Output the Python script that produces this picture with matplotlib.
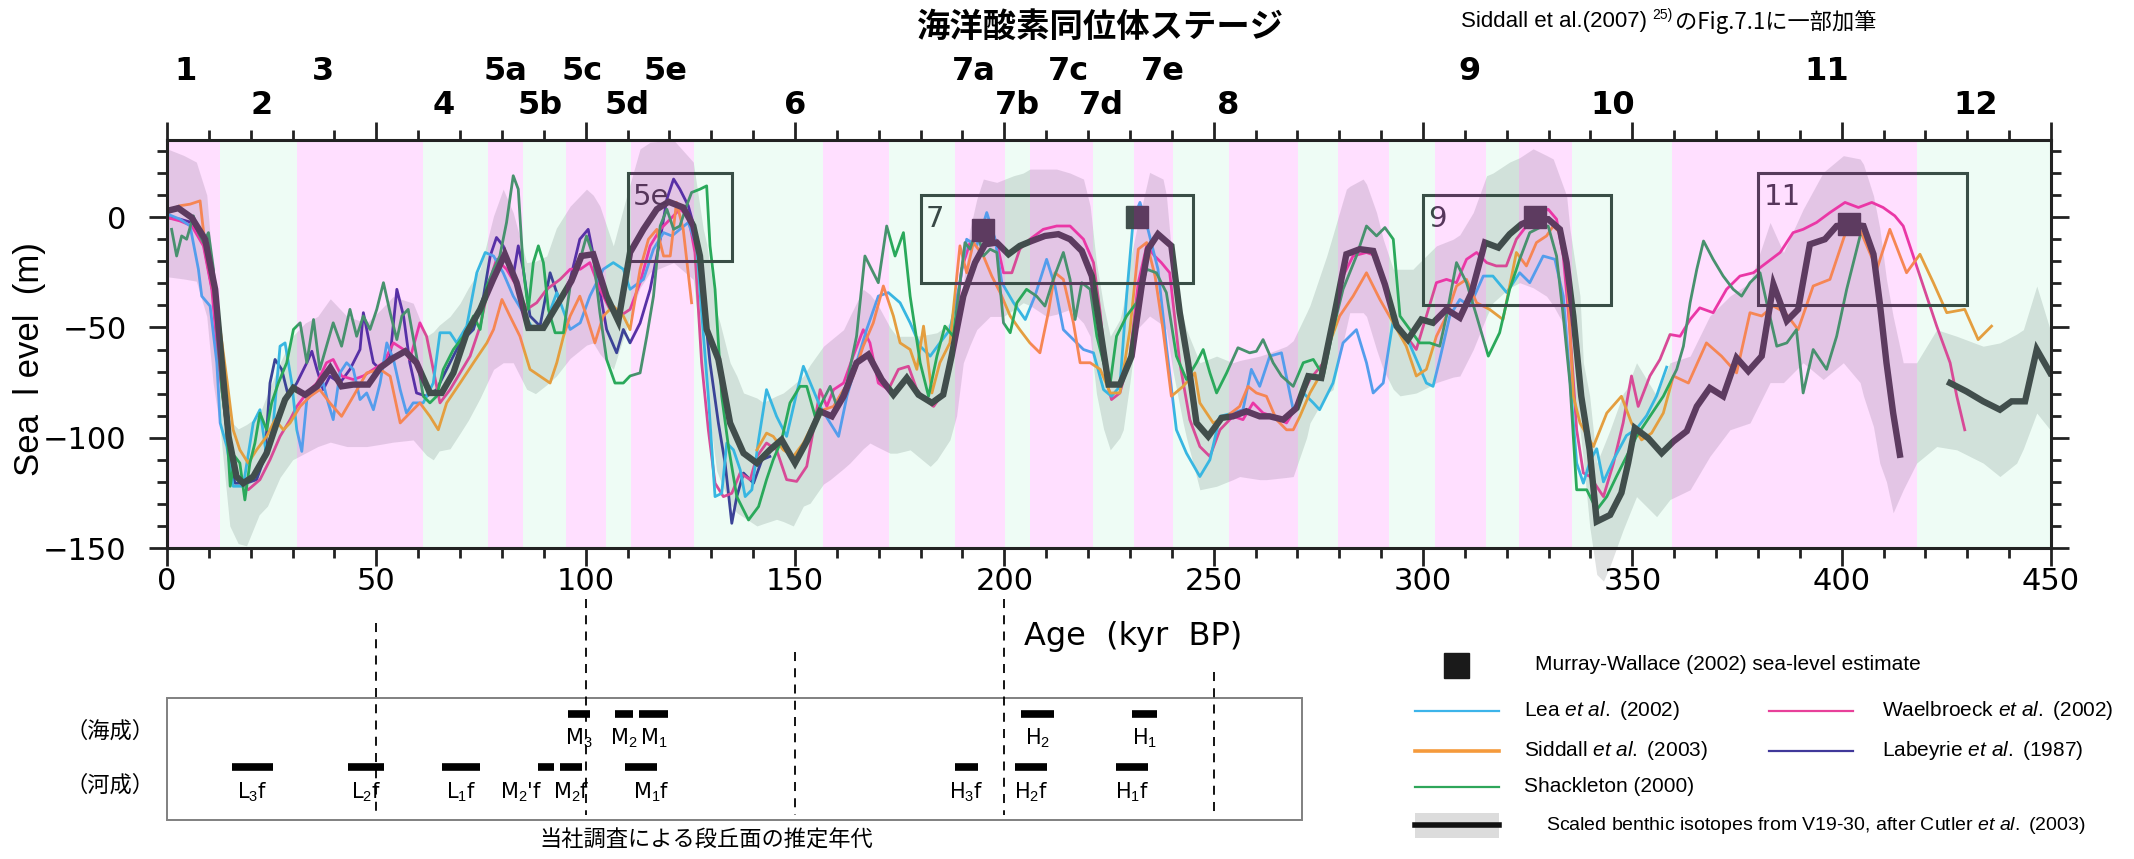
import numpy as np
import matplotlib
matplotlib.use('Agg')
import matplotlib.pyplot as plt
from matplotlib import font_manager
from matplotlib.patches import Rectangle

installed = {f.name for f in font_manager.fontManager.ttflist}
NARROW = 'Liberation Sans Narrow' if 'Liberation Sans Narrow' in installed else 'DejaVu Sans'
JP = ['Noto Sans CJK JP', 'DejaVu Sans']

plt.rcParams['font.family'] = ['Liberation Sans', 'DejaVu Sans']
plt.rcParams['mathtext.fontset'] = 'custom'
plt.rcParams['mathtext.rm'] = 'Liberation Sans'
plt.rcParams['mathtext.it'] = 'Liberation Sans:italic'

# ---- data (age in kyr BP, sea level in m) ----
stage_row1 = ['1', '3', '5a', '5c', '5e', '7a', '7c', '7e', '9', '11']
stage_row1_age = [4.5, 37.2, 80.8, 99.2, 119, 192.6, 215.4, 237.8, 311.2, 396.5]
stage_row2 = ['2', '4', '5b', '5d', '6', '7b', '7d', '8', '10', '12']
stage_row2_age = [22.5, 66, 89.2, 109.8, 150, 203.1, 223.1, 253.4, 345.4, 432]

# interglacial (pink) / glacial (green) bands
pink_bands = [(0, 12.7), (31, 61.1), (76.6, 85.1), (95.3, 104.9), (110.8, 125.9),
              (156.8, 172.5), (188.2, 200.2), (206.1, 221.1), (230.9, 240.3),
              (253.7, 270.2), (279.7, 291.9), (302.8, 315), (323, 335.5), (359.4, 418.1)]
green_bands = [(12.7, 31), (61.1, 76.6), (85.1, 95.3), (104.9, 110.8), (125.9, 156.8),
               (172.5, 188.2), (200.2, 206.1), (221.1, 230.9), (240.3, 253.7),
               (270.2, 279.7), (291.9, 302.8), (315, 323), (335.5, 359.4), (418.1, 450)]

# highstand boxes: name, age from, age to, level from, level to
boxes = [('5e', 110, 135, -20, 20), ('7', 180, 245, -30, 10),
         ('9', 300, 345, -40, 10), ('11', 380, 430, -40, 20)]

mw_age = [195, 231.6, 326.8, 401.8]
mw_level = [-6, 0, 0, -3]

env_age = [0, 4, 7, 9.5, 11, 12.7, 15, 17, 19, 22, 24, 27, 30, 33, 36, 39, 43, 47.7, 51, 54,
           58.8, 62, 63.6, 65, 67.6, 70, 72, 74.8, 78, 80.3, 82.7, 85.9, 88, 90.7, 93, 96.3,
           100.2, 101.8, 103.4, 106.6, 109.8, 110.6, 113, 115.4, 121, 125.7, 128.1, 128.9,
           131.3, 132.1, 134.5, 136.1, 137.7, 140.9, 142.4, 145.6, 147.2, 149.6, 152, 153.6,
           156.8, 158.4, 161.6, 163.1, 166.3, 167.9, 169.5, 172.7, 174.3, 177.5, 179.1, 182.3,
           183.9, 187, 188.6, 190.2, 191.8, 193.4, 195, 196.6, 198.2, 199.8, 202.2, 204.5,
           206.1, 210.1, 212.5, 215.7, 218.9, 220.5, 222, 223.7, 225.3, 227.6, 228.4, 230,
           231.6, 234.7, 237.9, 238.7, 240.3, 242.7, 243.5, 246.7, 250.7, 254.6, 256.2, 261,
           262.6, 267.4, 269, 272.2, 273, 277, 278.5, 281.7, 282.5, 285.7, 286.5, 288.9, 290.5,
           292.9, 294.5, 297.6, 298.4, 302.4, 303.2, 307.2, 308.8, 312, 315.2, 316.7, 320.7,
           323.1, 326.3, 329.5, 331.1, 334.3, 335.1, 337.5, 338.3, 339.8, 341.5, 343.1, 344.7,
           347.8, 348.6, 351, 355.8, 359, 363.8, 368.5, 373.3, 378.1, 382.9, 386.1, 390.8,
           395.6, 400.4, 404.4, 405.2, 407.6, 409.1, 410.7, 412.3, 414.7, 417.9, 422.7, 427.5,
           433.8, 437.8, 441.8, 443.4, 446.6, 449.8]
env_upper = [31, 28, 25, 10, -25, -60, -92, -96, -94, -90, -80, -66, -54, -48, -45, -37, -45,
             -48, -42, -36, -39, -54, -52, -49, -45, -39, -32, -23.6, 0.6, 12.7, 2, -20.6, -20,
             -17.6, -5, 5, 12.7, 10, 5, -13, 9.7, 15, 31, 34, 35, 25, -5.5, -12, -43, -48, -66,
             -72, -79.7, -82, -84, -81, -79.7, -76, -72, -67, -58.5, -56, -51, -45, -32.7, -35,
             -38.8, -50, -54, -54, -54, -53, -52.4, -48, -44.8, -30, -5.5, 8, 17.3, 16.5, 15.8,
             17, 18.8, 20, 21.8, 21.8, 21.8, 20, 17.3, 5, -20.6, -40, -54, -46.4, -40, -20,
             -5.5, 20.3, 17.3, 10, -23.6, -45, -51, -66, -63, -66, -65, -63, -62, -58.5, -56,
             -43.3, -40, -17.6, -8, 12.7, 14, 17.3, 15, 2.1, -10, -23.6, -23.6, -23.6, -22,
             -14.5, -13, -10, -8, 2.1, 18.8, 20, 25, 27, 31, 28, 26.4, 9.7, -5.5, -35.8, -66,
             -81, -111.5, -104, -96.4, -80, -78, -66, -81, -66, -63, -44.8, -35.8, -29.7, -2.4,
             -16, 3.6, 20.3, 27.9, 26.4, 24, 9.7, -5, -28.2, -45, -66, -66, -51, -54, -58.5,
             -57, -53, -51, -31.2, -51]
env_lower = [-27, -28, -29, -45, -75, -96, -140, -148, -149, -135, -131, -118, -110, -107,
             -104, -102, -104, -104, -103, -102, -101, -108, -110, -106, -105, -98, -92, -82,
             -69, -66, -66, -78, -80, -76, -72, -64, -58, -57, -62, -69, -50, -45, -32, -25,
             -20.6, -28.2, -70, -81, -115, -119, -130, -134, -136, -140, -139, -137, -138, -140,
             -131, -129.7, -121, -119, -114, -111.5, -105, -102.4, -104, -107, -107, -105.5,
             -108, -113, -110, -101, -90, -66, -58, -51, -48, -45, -45, -45, -42, -38.8, -40,
             -45, -44, -41.8, -48, -54, -80, -96, -105.5, -100, -96.4, -75, -51, -44.8, -49,
             -51, -70, -93.3, -100, -123.6, -122, -119, -117.6, -119, -119, -118, -117.6, -100,
             -93.3, -80, -78.2, -50, -43.3, -43.3, -45, -60, -69, -78, -81, -80, -79.7, -76,
             -75, -72.5, -72, -60, -45, -38.8, -32, -29.7, -32, -35.8, -40, -51, -70, -96.4,
             -110, -140, -162, -165, -158, -141.8, -138, -126.7, -135.8, -128, -123.6, -108.5,
             -96.4, -93.3, -75, -75, -66, -73.6, -66, -75, -81, -95, -111.5, -120, -134,
             -123.6, -111.5, -104, -105.5, -111.5, -117.6, -111.5, -105, -88.8, -96.4]

# scaled benthic isotopes, V19-30 (Cutler et al. 2003); nan = gap
cutler_age = [0.1, 2.7, 5.9, 9.1, 11.5, 13.1, 14.7, 16.6, 18.2, 20.6, 23.8, 26.2, 28.2, 30.2,
              33, 35.8, 39, 41.7, 44.5, 48.1, 50.9, 54.1, 56.9, 59.6, 62.8, 65.6, 68.4, 71.6,
              74.8, 77.9, 80.7, 83.5, 86.3, 89.9, 93.5, 96.6, 99, 101.8, 105, 107.8, 110.6,
              113.8, 117, 119.8, 123.3, 125.7, 127.3, 128.9, 131.7, 134.5, 137.7, 140.9, 144,
              146.8, 150, 152.8, 156, 158.8, 161.6, 164.7, 167.5, 170.7, 173.5, 176.7, 179.5,
              182.7, 185.4, 187.4, 190.2, 193, 195.4, 198.2, 201, 203.7, 206.5, 209.7, 212.9,
              215.7, 218.5, 220.9, 222.9, 224.9, 227.6, 230.4, 232.8, 234.3, 236.7, 239.9,
              241.9, 243.9, 245.9, 248.7, 251.9, 254.6, 257.8, 261, 263.4, 266.6, 269.8, 272.6,
              275.7, 278.9, 281.7, 284.9, 288.1, 290.9, 293.7, 296.4, 299.6, 302.4, 305.6,
              308.8, 311.6, 314.8, 318, 320.7, 323.5, 326.3, 329.9, 332.7, 334.3, 335.9, 337.8,
              339.8, 341.5, 344.7, 347.4, 349, 350.6, 353.8, 357, 359.8, 363, 365.4, 368.5,
              371.7, 374.9, 377.7, 380.9, 383.7, 386.9, 389.6, 392.4, 396, 398.8, 402, 405.2,
              407.6, 409.1, 410.7, 412.3, 413.9, np.nan, 425.9, 429.8, 433.8, 437.8, 440.6,
              443.8, 446.6, 449.8]
cutler_level = [2.9, 4.1, -0.2, -10, -32.7, -66, -99.4, -117.6, -120.6, -117.6, -107, -93.3,
                -82.7, -77.4, -80.5, -76.7, -68.3, -76.7, -75.9, -75.9, -68.3, -63.8, -60.8, -66,
                -79.7, -79.7, -70.6, -52.4, -41.8, -28.2, -16.8, -29.7, -50.2, -50.2, -38.8,
                -28.9, -17.6, -16.8, -35.8, -47.1, -16, -5.5, 3.6, 7, 4.4, -3.9, -17.6, -50.9,
                -64.5, -93.3, -107, -111.5, -105.5, -100.9, -111.5, -101.7, -88, -90.3, -81.2,
                -66, -62.3, -73.6, -80.5, -72.9, -80.5, -84.2, -80.5, -63, -35.8, -20.6, -12.3,
                -11.5, -16.8, -13, -10.8, -8.5, -7.7, -10, -15.3, -26.7, -50.9, -75.9, -75.9,
                -63, -31.2, -14.5, -7.7, -13, -43.3, -66, -93.3, -99.4, -91, -90.3, -88, -90.3,
                -90.3, -91.8, -86.5, -72.1, -72.9, -43.3, -16.8, -14.5, -15.3, -30.5, -49.4,
                -55.5, -46.4, -47.9, -41.8, -45.6, -34.2, -11.5, -13.8, -7.7, -3.2, -0.9, -0.9,
                -5.5, -20.6, -44.8, -81.2, -105.5, -138, -135, -125, -111.5, -95.6, -100.2,
                -107, -101.7, -97, -85.8, -77.4, -81.2, -63.8, -69.8, -63, -30.5, -47, -41.8,
                -12.3, -10, -4, -3.2, -4, -16.8, -38.8, -66, -88.8, -107.7, np.nan, -75.2, -79,
                -83.5, -87.3, -83.5, -83.5, -60, -70.6]

lea_age = [0.1, 3.1, 5.5, 7.5, 8.3, 10.3, 11.9, 12.7, 14.3, 15.8, 18.2, 20.6, 22.2, 23.8, 25.4,
           27, 28.2, 29.8, 31, 32.2, 33.4, 35.8, 37.3, 38.5, 39.7, 41.3, 42.9, 44.5, 46.1, 47.7,
           49.3, 50.9, 52.5, 54.1, 55.7, 57.2, 58.8, 61.2, 63.6, 65.2, 67.6, 69.2, 71.6, 74, 76,
           78, 80.3, 82.7, 85.1, 87.5, 89.9, 93.1, 96.3, 98.7, 101, 104.2, 106.6, 109, 110.6,
           113.8, 116.2, 118.6, 120.6, 122.5, 124.5, 126.5, 127.7, 129.3, 130.9, 132.5, 133.7,
           135.3, 136.9, 138.1, 139.7, 141.3, 143.2, 145.6, 148, 150.4, 152, 154, 156, 158.4,
           160.4, 162.4, 164.7, 167.1, 169.9, 172.3, 175.1, 177.5, 179.9, 182.3, 184.6, 187,
           189.4, 191, 193.4, 195.8, 197.8, 199.4, 202.2, 205, 207.3, 210.1, 212.1, 214.1,
           216.5, 218.9, 221.3, 223.7, 225.6, 227.6, 229.2, 230.8, 232.4, 234.3, 236.7, 238.7,
           241.1, 243.5, 246.7, 249.1, 251.5, 254.6, 257, 259, 261, 263.4, 266.2, 269, 271.4,
           273.8, 275.3, 278.5, 280.9, 284.1, 286.5, 288.1, 290.5, 292.9, 296, 298.4, 300.8,
           302.4, 304, 306.4, 308.8, 311.2, 314.4, 316.7, 320, 323.1, 325.5, 328.7, 331.5,
           333.5, 335.1, 336.7, 338.3, 340, 341.5, 343.1, 345.5, 348.6, 351, 353.4, 355.8,
           358.2]
lea_level = [1.4, -0.9, -3.9, -23.6, -35.8, -40.3, -66, -93.3, -104, -122, -122, -93.3, -87.3,
             -108.5, -93.3, -58.5, -57, -75.2, -96.4, -106.2, -82.7, -78.2, -75.2, -84.2, -91.8,
             -70.6, -66, -69, -82.7, -79.7, -87.3, -75.2, -57, -64.5, -78.2, -88.8, -84.2,
             -84.2, -75.2, -52.4, -52.4, -57, -49.4, -25.2, -16, -17.6, -25.2, -35.8, -43.3,
             -50.9, -50.9, -34.2, -50.9, -47.9, -35.8, -23.6, -20.6, -23.6, -32.7, -28.2,
             -14.5, -7, -8.5, -5.5, -2.4, -13, -43.3, -81.2, -126.7, -125.2, -102.4, -105.5,
             -114.5, -126.7, -123.6, -101, -78.2, -90.3, -99.4, -79.7, -67.6, -76.7, -85.8,
             -93.3, -99.4, -81.2, -66, -51, -35.8, -34.2, -38.8, -47.9, -58.5, -63, -57, -51,
             -29.7, -10, -13, 2.1, -10, -29.7, -38.8, -46.4, -35.8, -19.1, -31.2, -51, -55.5,
             -60, -61.5, -78.2, -81.2, -76.7, -35.8, -0.9, 6.7, -5.5, -23.6, -58.5, -96.4,
             -107, -117.6, -110, -90.3, -88.8, -87.3, -69, -76.7, -63, -61.5, -87.3, -79.7,
             -84.2, -87.3, -75.2, -57, -51, -66, -79.7, -75.2, -46.4, -54, -64.5, -75.2, -76.7,
             -64.5, -44.8, -37.3, -40.3, -26.7, -26.7, -34.2, -25.2, -29.7, -17.6, -19.1, -35.8,
             -73.6, -111.5, -120.6, -110, -105, -120, -110, -99, -96, -90, -81, -68]

siddall_age = [0.1, 3.1, 5.5, 7.9, 9.1, 11.1, 12.7, 14.3, 15.8, 17.4, 19.4, 21.4, 23.8, 25.8,
               27.8, 29.4, 31.8, 34.2, 36.5, 38.9, 41.7, 44.5, 47.7, 50.9, 53.3, 55.7, 58, 60.4,
               62.8, 64.8, 66.8, 70, 73.2, 76.4, 78, 80, 81.9, 84.3, 86.7, 89.1, 91.5, 93.1,
               94.7, 96.3, 98.6, 100.2, 102.2, 104.2, 106.6, 109, 110.6, 113, 115, 117, 118.6,
               120.2, 121.7, 123.3, 125.3, np.nan, 140.9, 143.2, 144.8, 147.2, 149.6, 152,
               154.4, 156.8, 159.2, 161.6, 163.9, 166.3, 168.7, 171.1, 173.5, 175.1, 177.5,
               179.1, 180.7, 182.7, 184.6, 187, 189.4, 191, 192.6, 195, 197, 199, 201.4, 203.7,
               206.1, 208.5, 210.5, 212.1, 214.1, 216.5, 218.1, 220.5, 222.9, 225.3, 227.6, 230,
               232, 234, 236, 237.9, 239.9, 242.7, 245.5, 246.7, 249.9, 253.1, 256.2, 258.2,
               260.2, 262.6, 265, 267.4, 269, 270.6, 273, 275.3, 277.7, 280.1, 283.3, 286.5,
               289.7, 292.9, 296, 298.4, 300.8, 303.2, 305.6, 308, 310.4, 312.8, 315.9, 319.1,
               322.3, 324.7, 327.1, 329.5, 331.1, 332.7, 334.3, 335.9, 337.5, 340.7, 343.9,
               347.4, 349.8, 352.2, 354.6, 357.4, 359.8, 363.4, 367.7, 371.3, 374.9, 378.1,
               380.9, 383.7, 386.5, 389.6, 393.2, 397.2, 401.2, 404, 408.4, 411.5, 415.5, 418.7,
               421.9, 425.1, 429.4, 432.6, 435.8]
siddall_level = [2.9, 5.2, 5.9, 7.4, -13, -32.7, -50.9, -73.6, -96.4, -105.5, -111.5, -105.5,
                 -99.4, -91.8, -96.4, -93.3, -85.8, -81.2, -78.2, -84.2, -90.3, -81.2, -70.6,
                 -69, -72.1, -93.3, -88.8, -84.2, -90.3, -96.4, -84.2, -75.2, -66, -57, -50.9,
                 -37.3, -44.8, -54, -69, -72.1, -75.2, -66, -54, -44.8, -35.8, -44.8, -57,
                 -44.8, -40.3, -44.8, -51, -23.6, -10, -5.5, -17.6, -17.6, 6.7, -5.5, -38.8,
                 np.nan, -105.5, -97.9, -99.4, -105.5, -108.5, -102.4, -93.3, -87.3, -85.8,
                 -78.2, -72, -58.5, -47.9, -31.2, -44.8, -57, -60, -69, -49.4, -79.7, -66, -57,
                 -13, -25.2, -11.5, -17.6, -26.7, -34.2, -44.8, -51, -57, -61.5, -43.3, -25.2,
                 -28.2, -47.9, -66, -66, -69, -79.7, -79.7, -51, -14.5, -11.5, -26.7, -51,
                 -81.2, -76.7, -70.6, -84.2, -93.3, -90.3, -85.8, -76.7, -79.7, -81.2, -91.8,
                 -96.4, -96.4, -90.3, -79.7, -72.1, -57, -44.8, -35.8, -25.2, -37.3, -47.9,
                 -58.5, -72, -69, -54, -44.8, -31.2, -28.2, -38.8, -41.8, -46.4, -16, -22.1,
                 -11.5, -8.5, -4, -7, -23.6, -81.2, -93.3, -104, -88.8, -81.2, -93.3, -101,
                 -97.9, -88.8, -72, -75.2, -57, -63, -70.6, -43.3, -44.8, -40.3, -43.3, -51,
                 -31.2, -28.2, -5.5, -4, -23.6, -5.5, -25.2, -16.8, -29.7, -43.3, -41.8, -55.5,
                 -49.4]

shackleton_age = [1.1, 2.3, 3.5, 4.7, 6.3, 7.5, 8.7, 9.9, 11.1, 11.9, 13.1, 14.3, 15.1, 16.2,
                  17.4, 18.6, 19.8, 21, 22.2, 23.8, 25, 26.6, 28.6, 30.2, 31.8, 33.4, 35, 36.5,
                  38.1, 39.7, 41.7, 43.7, 45.3, 46.9, 48.5, 50.1, 51.7, 53.3, 54.9, 56.1, 57.6,
                  59.6, 61.2, 62.8, 64.4, 66, 68.4, 70.8, 73.2, 74.8, 76.4, 78, 79.5, 81.1, 82.7,
                  83.9, 85.1, 86.3, 87.5, 88.7, 89.9, 91.1, 92.7, 94.7, 96.3, 98.7, 100.2, 101.8,
                  103.4, 105, 107, 109, 110.6, 113, 114.6, 116.2, 117.8, 119.4, 121, 122.5,
                  124.1, 125.3, 127.3, 128.9, 129.7, 130.9, 132.5, 134.1, 136.1, 138.9, 141.3,
                  143.2, 144.8, 146.8, 148.8, 151.2, 152.8, 154.8, 156.4, 158.4, 160, 162.4,
                  164.7, 166.7, 169.9, 171.9, 173.9, 175.9, 177.5, 179.9, 181.9, 183.9, 185.8,
                  187.8, 189.4, 190.6, 191.8, 193.4, 195, 196.6, 198.2, 199.8, 201.4, 203, 205.3,
                  207.7, 209.7, 211.7, 214.1, 215.7, 216.9, 218.5, 220.5, 222.1, 223.7, 225.3,
                  226.8, 229.2, 231.6, 234, 236.3, 238.7, 241.1, 243.5, 245.9, 247.5, 249.1,
                  250.7, 253.1, 255.8, 258.6, 260.2, 261.8, 264.2, 266.2, 269, 271.4, 273.8,
                  276.2, 278.5, 280.9, 284.1, 286.5, 288.9, 290.9, 292.9, 294.5, 296.9, 299.2,
                  301.6, 304, 305.6, 308, 310.4, 312.8, 315.6, 318.3, 320.7, 323.1, 325.5, 327.9,
                  329.9, 331.9, 333.5, 335.1, 336.7, 339.1, 341.5, 343.9, 346.2, 348.6, 351,
                  354.2, 357.4, 360.6, 362.2, 363.8, 365.4, 367, 369.3, 371.7, 374.1, 376.1,
                  378.1, 380.5, 382.1, 384.5, 386.9, 389.2, 390.8, 393.2, 396.4, 398.8, 401.2,
                  404.4]
shackleton_level = [-5.5, -17.6, -8.5, -10, 0.6, -7, -11.5, -7, -23.6, -50.9, -78.2, -96.4,
                    -122, -108.5, -111.5, -128.2, -111.5, -102.4, -88.8, -96.4, -84.2, -75.2,
                    -66, -50.9, -47.9, -66, -46.4, -69, -58.5, -47.9, -58.5, -41.8, -54, -44.8,
                    -50.9, -41.8, -29.7, -43.3, -55.5, -44.8, -41.8, -63, -81.2, -84.2, -81.2,
                    -69, -60, -54, -44.8, -50.9, -31.2, -23.6, -17.6, -2.4, 18.8, 12.7, -23.6,
                    -41.8, -20.6, -13, -20.6, -41.8, -52.4, -52.4, -31.2, -19.1, -8.5, -17.6,
                    -43.3, -64.5, -75.2, -75.2, -72, -70.6, -54, -35.8, -4, 3.6, -5.5, -4, 5.2,
                    11.2, 12.7, 14.2, -13, -32.7, -81.2, -104, -126.7, -137.3, -131.2, -119,
                    -110, -101, -84.2, -76.7, -76.7, -90.3, -84.2, -76.7, -85.8, -75.2, -54,
                    -17.6, -29.7, -4, -17.6, -7, -35.8, -66, -81.2, -63, -49.4, -54, -29.7,
                    -11.5, -14.5, -5.5, -17.6, -14.5, -16, -47.9, -52.4, -38.8, -32.7, -35.8,
                    -40.3, -28.2, -16, -28.2, -46.4, -29.7, -32.7, -54, -66, -75.2, -54, -44.8,
                    -38.8, -23.6, -25.2, -34.2, -63, -73.6, -66, -60, -70.6, -79.7, -70.6, -59.2,
                    -61.5, -60.8, -55.5, -66, -72, -76.7, -66, -64.5, -72, -51, -32.7, -17.6, -4,
                    -8.5, -4.7, -10, -44.8, -51, -57, -57, -58.5, -44.8, -20.6, -29.7, -44.8,
                    -63, -52.4, -32.7, -19.1, -7, -4.7, -4, -17.6, -44.8, -75.2, -123.6, -123.6,
                    -132.7, -126.7, -117.6, -108.5, -99.4, -90.3, -81.2, -69, -58.5, -38.8,
                    -23.6, -10.8, -19.1, -26.7, -32.7, -35.8, -29.7, -25.2, -38.8, -58.5, -57,
                    -51, -79.7, -60, -69, -54, -32.7, -8.5]

waelbroeck_age = [0.1, 3.1, 5.9, 8.7, 10.7, 12.3, 14.3, 16.2, 19.4, 22.2, 24.6, 27, 29.4, 31,
                  33.4, 35.8, 38.1, 39.7, 41.7, 44.5, 46.9, 49.3, 51.7, 54.1, 56.5, 58, 60.4,
                  62, 63.6, 65.2, 67.6, 70, 72.4, 74.8, 77.2, 78.7, 81.1, 83.5, 85.9, 88.3, 90.7,
                  93.9, 96.3, 98.7, 101, 103.4, 105.8, 108.2, 110.6, 113, 115.4, 117.8, 120.2,
                  122.5, 124.5, 126.1, 127.7, 129.3, 130.9, 132.9, 134.9, 136.9, 139.3, 140.9,
                  143.2, 145.6, 148, 150.4, 152.8, 154.4, 156, 157.6, 159.2, 161.6, 163.9,
                  166.3, 167.9, 169.9, 172.3, 174.7, 177.1, 179.1, 181.1, 183.1, 185.4, 187.8,
                  189.8, 191.8, 194.2, 196.6, 198.2, 199.8, 201.8, 203.7, 206.1, 209.3, 212.5,
                  215.7, 218.9, 221.3, 222.9, 224.5, 225.6, 227.6, 230, 232, 234, 235.9, 237.5,
                  239.5, 241.9, 244.3, 246.7, 249.1, 251.5, 254.6, 257, 259.4, 261.8, 264.2,
                  267.4, 269.8, 273, 276.2, 278.5, 280.9, 283.3, 286.5, 288.9, 291.3, 293.7,
                  296, 298.4, 300.8, 303.2, 305.6, 308, 310.4, 312.8, 315.2, 317.5, 319.9, 322.3,
                  324.7, 327.1, 329.9, 331.9, 333.5, 335.1, 336.7, 338.3, 339.9, 343.1, 345.5,
                  347.8, 349.8, 351.4, 354.2, 356.6, 359, 361.4, 363.8, 366.1, 369.3, 372.5,
                  375.7, 378.9, 382.1, 385.3, 388.4, 390.8, 394, 397.2, 400.8, 404, 407.2,
                  409.9, 412.7, 414.7, 417.1, 419.5, 422.7, 425.9, 427.5, 429.4]
waelbroeck_level = [-0.2, -1.7, -3.9, -13, -32.7, -66, -96.4, -116, -123.6, -119, -110, -99.4,
                    -91.8, -85.8, -79.7, -75.2, -66, -64.5, -72, -73.6, -72, -69, -66, -57, -60,
                    -64.5, -47.9, -54, -69, -84.2, -78.2, -70.6, -63, -49.4, -28.2, -19.1,
                    -23.6, -31.2, -41.8, -38.8, -32.7, -28.2, -23.6, -23.6, -20.6, -32.7, -41.8,
                    -44.8, -41.8, -29.7, -13, -5.5, -0.9, 3.6, 0.6, -16, -66, -96.4, -120.6,
                    -126.7, -125.2, -116, -119, -108.5, -102.4, -105.5, -119, -119.8, -113,
                    -96.4, -78.2, -85.8, -78.2, -75.2, -63, -51, -57, -75.2, -78.2, -69, -67.6,
                    -78.2, -82.7, -85.8, -79.7, -58.5, -23.6, -11.5, -10, -5.5, -11.5, -25.2,
                    -25.2, -14.5, -10, -5.5, -4, -4, -10, -20.6, -43.3, -75.2, -82.7, -79.7,
                    -63, -29.7, -13, -17.6, -20.6, -25.2, -66, -91.8, -104, -108.5, -96.4,
                    -90.3, -91.8, -84.2, -88.8, -90.3, -93.3, -85.8, -73.6, -66, -51, -26.7,
                    -17.6, -16, -17.6, -32.7, -47.9, -54, -60, -44.8, -29.7, -28.2, -29.7,
                    -19.1, -16, -20.6, -22.1, -22.1, -10, -4, 0.6, 3.6, -0.9, -17.6, -51,
                    -96.4, -116, -117.6, -126.7, -111.5, -93.3, -72, -85.8, -72, -64.5, -53.2,
                    -54, -46.4, -41.1, -43.3, -32.7, -26.7, -25.2, -20.6, -16, -7, -5.5, -2.4,
                    2.1, 6.7, 4.4, 6.7, 4.4, 0.6, -4, -17.6, -31.2, -49.4, -66, -81.2, -96.4]

labeyrie_age = [0.1, 3.1, 5.9, 8.7, 11.1, 12.7, 14.3, 16.2, 19, 21.4, 23.4, 24.6, 25.8, 27.4, 29,
                31, 33.4, 34.6, 35.8, 37.3, 38.9, 41.3, 43.7, 46.1, 46.9, 47.7, 49.3, 50.9, 53.3,
                54.9, 56.5, 58, 59.6, 62, 64.4, 66.8, 70, 73.2, 75.6, 77.2, 78.7, 80.3, 82.7,
                83.9, 85.1, 86.7, 89.1, 91.5, 93.9, 96.3, 98.6, 100.6, 102.2, 105, 107.4, 109,
                110.6, 113, 115.4, 117.8, 119.4, 121, 122.5, 124.5, 126.1, 127.7, 129.7, 131.7,
                133.3, 134.9, 136.1, 137.7, 140.1, 142.1, 144]
labeyrie_level = [-0.2, -0.9, -2.4, -11.5, -35.8, -69, -96.4, -120.6, -120.6, -119, -108.5,
                  -75.2, -64.5, -69, -81.2, -75.2, -66, -60.8, -69, -78.2, -72.1, -75.2, -69,
                  -60, -43.3, -50.9, -66, -69, -63, -32.7, -44.8, -66, -79.7, -81.2, -78.2, -69,
                  -57, -50.9, -35.8, -17.6, -9.2, -13, -26.7, -13, -23.6, -44.8, -49.4, -25.2,
                  -38.8, -28.2, -10, -5.5, -20.6, -50.9, -61.5, -50.9, -57, -48, -32.7, -10,
                  8.2, 17.3, 12.7, 5.2, -5.5, -29.7, -66, -93.3, -111.5, -138.8, -126.7, -116,
                  -120.6, -110, -108.5]

# terrace ages from the company survey: label, from, to (kyr)
marine_terraces = [('M$_3$', 95.7, 101.0), ('M$_2$', 107.1, 111.2), ('M$_1$', 112.8, 119.6),
                   ('H$_2$', 204.1, 211.8), ('H$_1$', 230.6, 236.4)]
fluvial_terraces = [('L$_3$f', 15.5, 25.4), ('L$_2$f', 43.2, 51.8), ('L$_1$f', 65.7, 74.7),
                    ("M$_2$'f", 88.6, 92.5), ('M$_2$f', 93.8, 99.2), ('M$_1$f', 109.4, 117.1),
                    ('H$_3$f', 188.3, 193.7), ('H$_2$f', 202.6, 210.1), ('H$_1$f', 226.7, 234.3)]
dash_ages = [50, 100, 150, 200, 250]
panel_end_age = 271

# ---- styles ----
C_LEA = '#3cb4ea'
C_SID = '#f59a3c'
C_SHA = '#2ea65a'
C_WAE = '#e8409a'
C_LAB = '#40389a'
C_CUT = '#46444a'
C_ENV = '#e0e2e2'

W, H = 2134, 859
fig = plt.figure(figsize=(W / 100, H / 100), dpi=100)


def fx(px):
    return px / W


def fy(py):
    return 1 - py / H


def ptext(x, y, s, **kw):
    return fig.text(fx(x), fy(y), s, **kw)


AX_L, AX_R, AX_T, AX_B = 167, 2051, 140, 548
ax = fig.add_axes([fx(AX_L), fy(AX_B), fx(AX_R) - fx(AX_L), fy(AX_T) - fy(AX_B)])
ax.set_xlim(0, 450)
ax.set_ylim(-150, 35)

ax.fill_between(env_age, env_lower, env_upper, color=C_ENV, lw=0, zorder=1, clip_on=False)
ax.plot(labeyrie_age, labeyrie_level, color=C_LAB, lw=2.0, zorder=2)
ax.plot(waelbroeck_age, waelbroeck_level, color=C_WAE, lw=2.0, zorder=2)
ax.plot(lea_age, lea_level, color=C_LEA, lw=2.0, zorder=2)
ax.plot(siddall_age, siddall_level, color=C_SID, lw=2.0, zorder=2)
ax.plot(shackleton_age, shackleton_level, color=C_SHA, lw=2.0, zorder=2)
ax.plot(cutler_age, cutler_level, color=C_CUT, lw=4.6, zorder=3, solid_joinstyle='miter')
ax.plot(mw_age, mw_level, ls='none', marker='s', ms=16, color=C_CUT, zorder=4)

for name, a0, a1, l0, l1 in boxes:
    ax.add_patch(Rectangle((a0, l0), a1 - a0, l1 - l0, fill=False, ec='#3e4444', lw=2.2, zorder=4))
    ax.text(a0 + 1.3, l1 - 4.5, name, ha='left', va='top', fontsize=21, color='#3e3e44',
            family=NARROW, zorder=4)

# translucent stage colouring on top, as in the original figure
for a0, a1 in pink_bands:
    ax.axvspan(a0, a1, color='#ff00ff', alpha=0.125, lw=0, zorder=6)
for a0, a1 in green_bands:
    ax.axvspan(a0, a1, color='#00e070', alpha=0.065, lw=0, zorder=6)

ax.set_xticks(np.arange(0, 451, 50))
ax.set_xticks(np.arange(0, 451, 10), minor=True)
ax.set_yticks([0, -50, -100, -150])
ax.set_yticks(np.arange(-150, 36, 10), minor=True)
ax.tick_params(which='major', direction='out', length=13, width=2, top=True, right=True,
               labelsize=22, color='#222222')
ax.tick_params(which='minor', direction='out', length=7, width=2, top=True, right=True,
               color='#222222')
ax.tick_params(axis='y', pad=16)
ax.tick_params(axis='x', pad=1)
for lab in ax.get_xticklabels() + ax.get_yticklabels():
    lab.set_family(NARROW)
for sp in ax.spines.values():
    sp.set_linewidth(2.2)
    sp.set_color('#222222')
    sp.set_zorder(7)

# stage numbers above the axis
for s, a in zip(stage_row1, stage_row1_age):
    ax.text(a, (AX_B - 71) / (AX_B - AX_T), s, transform=ax.get_xaxis_transform(),
            ha='center', va='center', fontsize=23, fontweight='bold', family=NARROW)
for s, a in zip(stage_row2, stage_row2_age):
    ax.text(a, (AX_B - 106) / (AX_B - AX_T), s, transform=ax.get_xaxis_transform(),
            ha='center', va='center', fontsize=23, fontweight='bold', family=NARROW)

ptext(1101, 27, '海洋酸素同位体ステージ', ha='center', va='center', fontsize=24,
      fontweight='bold', family=JP)

# source note, pieces laid out one after another
renderer = fig.canvas.get_renderer()
t1 = ptext(1461, 22, 'Siddall et al.(2007)', ha='left', va='center', fontsize=16,
           family='Liberation Sans')
x_next = t1.get_window_extent(renderer).x1 + 5
t2 = fig.text(x_next / W, fy(15), '25)', ha='left', va='center', fontsize=10,
              family='Liberation Sans')
x_next = t2.get_window_extent(renderer).x1 + 3
fig.text(x_next / W, fy(22), 'のFig.7.1に一部加筆', ha='left', va='center', fontsize=16,
         family=JP)

ptext(30, 359, 'Sea  l evel  (m)', rotation=90, ha='center', va='center', fontsize=25,
      family='Liberation Sans')
ptext(1133, 637, 'Age  (kyr  BP)', ha='center', va='center', fontsize=23, family='DejaVu Sans')

# ---- terrace panel ----
tax = fig.add_axes([fx(AX_L), fy(830), fx(AX_R) - fx(AX_L), fy(590) - fy(830)])
tax.set_xlim(0, 450)
tax.set_ylim(830, 590)
tax.axis('off')
tax.add_patch(Rectangle((0, 698), panel_end_age, 122, fill=False, ec='#808080', lw=1.4,
                        clip_on=False))
dash_top = [623, 599, 652, 599, 672]
for a, y0 in zip(dash_ages, dash_top):
    tax.plot([a, a], [y0, 815], color='black', lw=1.3, ls=(0, (5, 4)), clip_on=False)

label_shift = {"M$_2$'f": -6, 'M$_1$f': 2.5}
for name, a0, a1 in marine_terraces:
    tax.plot([a0, a1], [714, 714], color='black', lw=5.5, solid_capstyle='butt')
    tax.text((a0 + a1) / 2 + label_shift.get(name, 0), 738, name, ha='center', va='center',
             fontsize=15, family=NARROW)
for name, a0, a1 in fluvial_terraces:
    tax.plot([a0, a1], [767, 767], color='black', lw=5.5, solid_capstyle='butt')
    tax.text((a0 + a1) / 2 + label_shift.get(name, 0), 792, name, ha='center', va='center',
             fontsize=15, family=NARROW)

ptext(110, 731, '（海成）', ha='center', va='center', fontsize=16, family=JP)
ptext(110, 785, '（河成）', ha='center', va='center', fontsize=16, family=JP)
ptext(706, 840, '当社調査による段丘面の推定年代', ha='center', va='center', fontsize=16,
      family=JP)

# ---- legend (drawn in pixel space) ----
lax = fig.add_axes([0, 0, 1, 1])
lax.set_xlim(0, W)
lax.set_ylim(H, 0)
lax.axis('off')
lax.plot([1456], [665], marker='s', ms=18, color='#1a1a1a', ls='none')
lax.text(1535, 665, 'Murray-Wallace (2002) sea-level estimate', va='center', fontsize=15)
legend_lines = [(C_LEA, 1415, 711, 1524, r'Lea $\mathit{et\ al.}$ (2002)', 1.6),
                (C_SID, 1415, 751, 1524, r'Siddall $\mathit{et\ al.}$ (2003)', 2.6),
                (C_SHA, 1415, 787, 1524, 'Shackleton (2000)', 1.6),
                (C_WAE, 1769, 711, 1882, r'Waelbroeck $\mathit{et\ al.}$ (2002)', 1.6),
                (C_LAB, 1769, 751, 1882, r'Labeyrie $\mathit{et\ al.}$ (1987)', 1.6)]
for col, x0, y, tx, label, lw in legend_lines:
    lax.plot([x0, x0 + 84], [y, y], color=col, lw=lw)
    lax.text(tx, y, label, va='center', fontsize=15)
lax.add_patch(Rectangle((1415, 813), 84, 25, color='#dcdcdc', lw=0))
lax.plot([1415, 1499], [825, 825], color='#111111', lw=4)
lax.text(1546, 825, r'Scaled benthic isotopes from V19-30, after Cutler $\mathit{et\ al.}$ (2003)',
         va='center', fontsize=14)

fig.savefig('out.png', dpi=100)
